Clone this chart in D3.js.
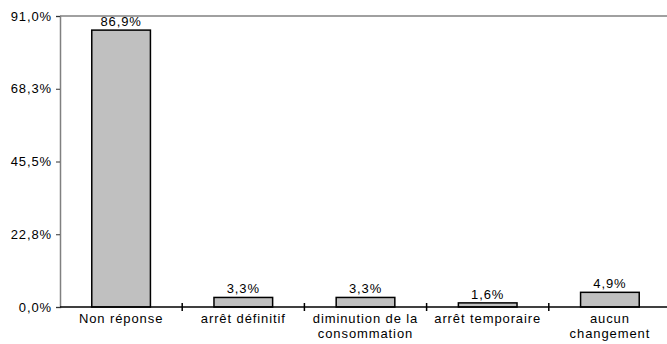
<!DOCTYPE html>
<html>
<head>
<meta charset="utf-8">
<script src="https://cdn.jsdelivr.net/npm/d3@7"></script>
<style>
  body { margin: 0; background: #fff; }
  text { font-family: "Liberation Sans", Arial, sans-serif; font-size: 13px; letter-spacing: 0.9px; fill: #000; }
</style>
</head>
<body>
<div class="chart"></div>
<script>
// categories and values
let categories = ["Non réponse", "arrêt définitif", "diminution de la consommation", "arrêt temporaire", "aucun changement"];
let categoryLines = [["Non réponse"], ["arrêt définitif"], ["diminution de la", "consommation"], ["arrêt temporaire"], ["aucun", "changement"]];
let values = [86.9, 3.3, 3.3, 1.6, 4.9];
let valueLabels = ["86,9%", "3,3%", "3,3%", "1,6%", "4,9%"];
let yTicks = [0, 22.75, 45.5, 68.25, 91];
let yTickLabels = ["0,0%", "22,8%", "45,5%", "68,3%", "91,0%"];

let svgWidth = 667;
let svgHeight = 344;

let margin = { top: 16, right: -4, bottom: 37, left: 60 };
let width = svgWidth - margin.left - margin.right;
let height = svgHeight - margin.top - margin.bottom;

let svg = d3.select(".chart")
  .append("svg")
  .attr("width", svgWidth)
  .attr("height", svgHeight);

let chartGroup = svg.append("g")
  .attr("transform", `translate(${margin.left}, ${margin.top})`);

let xScale = d3.scaleBand()
  .domain(categories)
  .range([0, width])
  .paddingInner(0.52)
  .paddingOuter(0.26);

let yScale = d3.scaleLinear()
  .domain([0, 91])
  .range([height, 0]);

// top border
chartGroup.append("line")
  .attr("x1", 0).attr("x2", width)
  .attr("y1", 0).attr("y2", 0)
  .attr("stroke", "#808080")
  .attr("stroke-width", 1.5);

// left axis
let leftAxis = d3.axisLeft(yScale)
  .tickValues(yTicks)
  .tickSize(4)
  .tickPadding(4)
  .tickFormat((d, i) => yTickLabels[i]);

let yAxisG = chartGroup.append("g").call(leftAxis);
yAxisG.select(".domain").attr("stroke", "#808080").attr("stroke-width", 1.5);
yAxisG.selectAll(".tick line").attr("stroke", "#333");
yAxisG.selectAll("text").attr("font-size", null).attr("font-family", null);

// bars
chartGroup.selectAll("rect.bar")
  .data(values)
  .enter()
  .append("rect")
  .attr("class", "bar")
  .attr("x", (d, i) => xScale(categories[i]))
  .attr("y", d => yScale(d) + 1)
  .attr("width", xScale.bandwidth())
  .attr("height", d => height - yScale(d) - 1)
  .attr("fill", "#c0c0c0")
  .attr("stroke", "#000")
  .attr("stroke-width", 1.5);

// value labels
chartGroup.selectAll("text.val")
  .data(values)
  .enter()
  .append("text")
  .attr("class", "val")
  .attr("x", (d, i) => xScale(categories[i]) + xScale.bandwidth() / 2)
  .attr("y", d => yScale(d) - 3)
  .attr("text-anchor", "middle")
  .text((d, i) => valueLabels[i]);

// bottom axis with category separators
let step = width / categories.length;
let xg = chartGroup.append("g").attr("transform", `translate(0, ${height})`);
xg.append("line")
  .attr("x1", 0).attr("x2", width)
  .attr("stroke", "#000")
  .attr("stroke-width", 1.5);
xg.selectAll("line.sep")
  .data(d3.range(1, categories.length))
  .enter()
  .append("line")
  .attr("class", "sep")
  .attr("x1", d => d * step).attr("x2", d => d * step)
  .attr("y1", -4).attr("y2", 4)
  .attr("stroke", "#000")
  .attr("stroke-width", 1.5);

xg.selectAll("text.cat")
  .data(categoryLines)
  .enter()
  .append("text")
  .attr("class", "cat")
  .attr("text-anchor", "middle")
  .attr("transform", (d, i) => `translate(${xScale(categories[i]) + xScale.bandwidth() / 2}, 16)`)
  .each(function(lines) {
    let t = d3.select(this);
    lines.forEach((l, j) => {
      t.append("tspan").attr("x", 0).attr("y", j * 15).text(l);
    });
  });
</script>
</body>
</html>
